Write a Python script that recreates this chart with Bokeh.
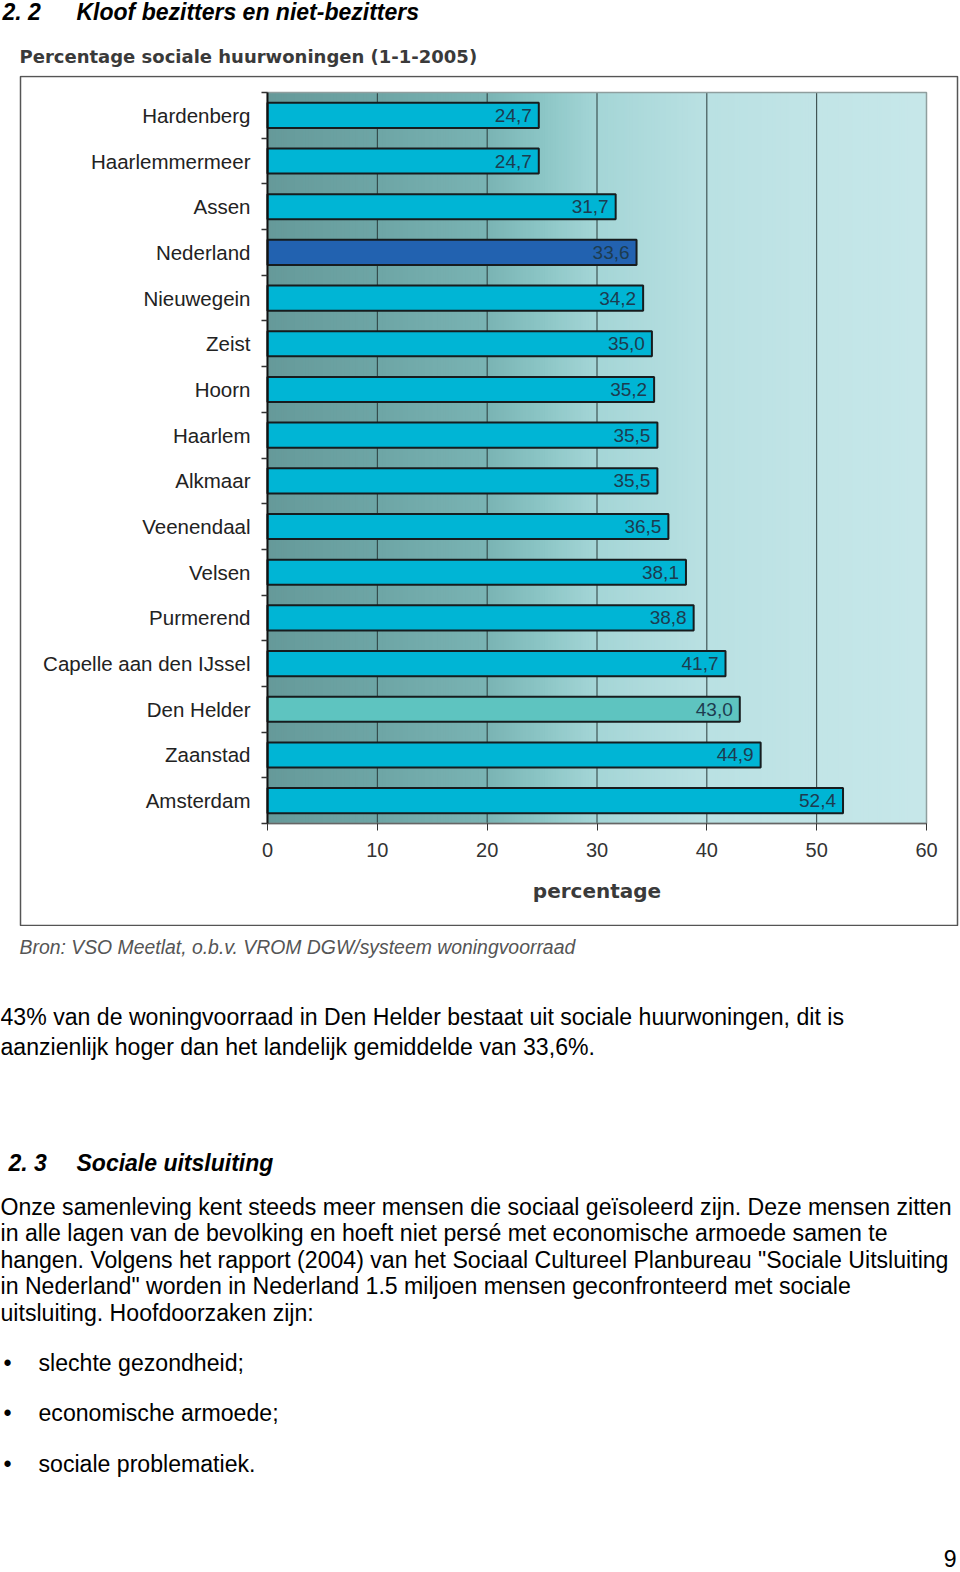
import numpy as np
from bokeh.plotting import figure
from bokeh.layouts import column
from bokeh.models import Range1d, FixedTicker
from bokeh.core.properties import value
from bokeh.embed import file_html
from bokeh.resources import INLINE

# ---------------- data ----------------
cities = ["Hardenberg", "Haarlemmermeer", "Assen", "Nederland", "Nieuwegein",
          "Zeist", "Hoorn", "Haarlem", "Alkmaar", "Veenendaal", "Velsen",
          "Purmerend", "Capelle aan den IJssel", "Den Helder", "Zaanstad",
          "Amsterdam"]
percent = [24.7, 24.7, 31.7, 33.6, 34.2, 35.0, 35.2, 35.5, 35.5, 36.5, 38.1,
           38.8, 41.7, 43.0, 44.9, 52.4]
x_ticks = [0, 10, 20, 30, 40, 50, 60]
grid_vals = [10, 20, 30, 40, 50]

section_no = "2. 2"
section_title = "Kloof bezitters en niet-bezitters"
chart_title = "Percentage sociale huurwoningen (1-1-2005)"
x_label = "percentage"
source_note = "Bron: VSO Meetlat, o.b.v. VROM DGW/systeem woningvoorraad"

para1 = ["43% van de woningvoorraad in Den Helder bestaat uit sociale huurwoningen, dit is",
         "aanzienlijk hoger dan het landelijk gemiddelde van 33,6%."]
section2_no = "2. 3"
section2_title = "Sociale uitsluiting"
para2 = ["Onze samenleving kent steeds meer mensen die sociaal geïsoleerd zijn. Deze mensen zitten",
         "in alle lagen van de bevolking en hoeft niet persé met economische armoede samen te",
         "hangen. Volgens het rapport (2004) van het Sociaal Cultureel Planbureau \"Sociale Uitsluiting",
         "in Nederland\" worden in Nederland 1.5 miljoen mensen geconfronteerd met sociale",
         "uitsluiting. Hoofdoorzaken zijn:"]
bullets = ["slechte gezondheid;", "economische armoede;", "sociale problematiek."]
page_no = "9"

# ---------------- page geometry (px) ----------------
W = 960
TOP_H = 75            # page y 0..75
CH_TOP, CH_BOT = 75, 926
BOT_H = 1572 - CH_BOT
BOX_L, BOX_R, BOX_T, BOX_B = 20, 957, 76, 925
PL, PR, PT, PB = 267, 926, 92, 823     # plot area (page px)
n = len(cities)

FONT = value("Liberation Sans")
BODY = "23.1px"
HEAD = "23px"


def text_fig(h):
    f = figure(width=W, height=h, output_backend="svg", toolbar_location=None,
               x_range=Range1d(0, W), y_range=Range1d(h, 0),
               x_axis_location=None, y_axis_location=None,
               min_border=0, outline_line_color=None,
               background_fill_color="white", border_fill_color="white")
    f.grid.visible = False
    return f


def put(f, xs, ys, texts, size, style="normal", font=FONT, color="#000000",
        align="left"):
    f.text(x=xs, y=ys, text=texts, text_font=font, text_font_size=size,
           text_font_style=style, text_color=color, text_align=align,
           text_baseline="middle")


# ---------------- top text ----------------
top = text_fig(TOP_H)
put(top, [2], [11], [section_no], HEAD, "bold italic")
put(top, [76], [11], [section_title], HEAD, "bold italic")
put(top, [19], [56], [chart_title], "18px", "bold", value("DejaVu Sans"), "#3a3a3a")

# ---------------- chart ----------------
sx = (PR - PL) / 60.0
sy = (PB - PT) / float(n)
xr = Range1d(-PL / sx, (W - PL) / sx)
yr = Range1d(-(CH_BOT - PB) / sy, n + (PT - CH_TOP) / sy)

p = figure(width=W, height=CH_BOT - CH_TOP, output_backend="svg",
           toolbar_location=None, x_range=xr, y_range=yr, min_border=0,
           background_fill_color="white", border_fill_color="white",
           outline_line_color=None)
p.grid.visible = False

# outer chart frame (style)
p.quad(left=(BOX_L - PL) / sx, right=(BOX_R - PL) / sx,
       top=(PB - BOX_T) / sy, bottom=(PB - BOX_B) / sy,
       fill_color=None, line_color="#555555", line_width=1.5)

# gradient background of the plot area (style)
stops_x = [0, 10, 20, 25, 30, 40, 50, 60]
stops_c = [(102, 154, 154), (110, 166, 166), (122, 180, 180), (140, 198, 198),
           (165, 214, 215), (186, 225, 227), (194, 229, 231), (199, 232, 234)]
edges = np.linspace(0, 60, 241)
mids = (edges[:-1] + edges[1:]) / 2
cols = []
for m in mids:
    r = np.interp(m, stops_x, [c[0] for c in stops_c])
    g = np.interp(m, stops_x, [c[1] for c in stops_c])
    b = np.interp(m, stops_x, [c[2] for c in stops_c])
    cols.append("#%02x%02x%02x" % (int(r), int(g), int(b)))
p.quad(left=edges[:-1], right=np.minimum(edges[1:] + 0.5, 60), bottom=0, top=n,
       fill_color=cols, line_color=None)

# grid lines and plot-area border
p.segment(x0=grid_vals, y0=0, x1=grid_vals, y1=n, line_color="#2b3b3b", line_width=1)
p.quad(left=0, right=60, bottom=0, top=n, fill_color=None,
       line_color="#8f9e9e", line_width=1.5)

# bars
ypos = [n - 0.5 - i for i in range(n)]
colors = []
for c in cities:
    if c == "Nederland":
        colors.append("#2262b0")
    elif c == "Den Helder":
        colors.append("#5ec4c0")
    else:
        colors.append("#00b5d5")
p.hbar(y=ypos, left=0, right=percent, height=0.55, fill_color=colors,
       line_color="#161c1e", line_width=2)

labels = [("%.1f" % v).replace(".", ",") for v in percent]
p.text(x=percent, y=ypos, text=labels, x_offset=-7, text_align="right",
       text_baseline="middle", text_font=FONT,
       text_font_size="19px", text_color="#1d3c50")

# axes
xa = p.xaxis[0]
xa.fixed_location = 0
xa.bounds = (0, 60)
xa.ticker = FixedTicker(ticks=x_ticks)
xa.axis_line_color = "#666666"
xa.axis_line_width = 1.5
xa.major_tick_in = 0
xa.major_tick_out = 7
xa.major_tick_line_color = "#333333"
xa.minor_tick_line_color = None
xa.major_label_text_font = "Liberation Sans"
xa.major_label_text_font_size = "20px"
xa.major_label_text_color = "#333333"
xa.major_label_standoff = 12
xa.axis_label = x_label
xa.axis_label_text_font = "DejaVu Sans"
xa.axis_label_text_font_style = "bold"
xa.axis_label_text_font_size = "20px"
xa.axis_label_text_color = "#3a3a3a"
xa.axis_label_standoff = 19

ya = p.yaxis[0]
ya.fixed_location = 0
ya.bounds = (0, n)
ya.ticker = FixedTicker(ticks=ypos, minor_ticks=list(range(n + 1)))
ya.major_label_overrides = {y: c for y, c in zip(ypos, cities)}
ya.axis_line_color = "#111111"
ya.axis_line_width = 2
ya.major_tick_in = 0
ya.major_tick_out = 0
ya.minor_tick_in = 0
ya.minor_tick_out = 6
ya.minor_tick_line_color = "#333333"
ya.minor_tick_line_width = 1.5
ya.major_label_text_font = "Liberation Sans"
ya.major_label_text_font_size = "20.5px"
ya.major_label_text_color = "#222222"
ya.major_label_standoff = 11

# ---------------- bottom text ----------------
bot = text_fig(BOT_H)
off = CH_BOT
put(bot, [19], [946 - off], [source_note], "19.4px", "italic", FONT, "#555555")
put(bot, [0] * len(para1), [1016 - off + 30 * i for i in range(len(para1))], para1, BODY)
put(bot, [8], [1162 - off], [section2_no], HEAD, "bold italic")
put(bot, [76], [1162 - off], [section2_title], HEAD, "bold italic")
put(bot, [0] * len(para2), [1206 - off + 26.5 * i for i in range(len(para2))], para2, BODY)
by = [1362 - off + 50.5 * i for i in range(len(bullets))]
put(bot, [3] * len(bullets), by, ["\u2022"] * len(bullets), BODY)
put(bot, [38] * len(bullets), by, bullets, BODY)
put(bot, [956], [1558 - off], [page_no], BODY, align="right")

page = column(top, p, bot, spacing=0)

open("out.html", "w").write(file_html(page, INLINE))
